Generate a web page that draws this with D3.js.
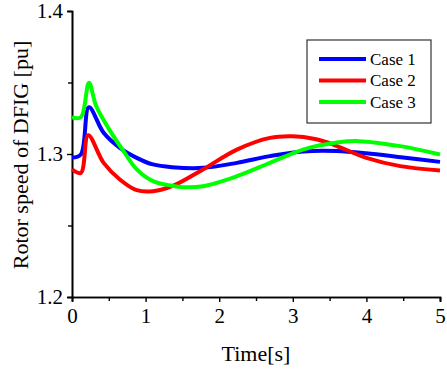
<!DOCTYPE html>
<html>
<head>
<meta charset="utf-8">
<script src="https://cdn.jsdelivr.net/npm/d3@7"></script>
<style>
  body { margin: 0; background: #fff; }
</style>
</head>
<body>
<div id="chart"></div>
<script>
      var fontFam = "'Liberation Serif', 'Times New Roman', Times, serif";

      // time points (s) and rotor speed values (pu)
      var case1T = [0, 0.12, 0.23, 0.43, 0.65, 0.88, 1.1, 1.36, 1.78, 2.24, 2.69, 3.14, 3.6, 4.0, 4.5, 5];
      var case1V = [1.2975, 1.2997, 1.3327, 1.3148, 1.3043, 1.2973, 1.2927, 1.2908, 1.2903, 1.2938, 1.2985, 1.3018, 1.3021, 1.3005, 1.2975, 1.2945];

      var case2T = [0, 0.12, 0.22, 0.43, 0.65, 0.88, 1.1, 1.36, 1.78, 2.24, 2.69, 3.0, 3.3, 3.55, 4.0, 4.46, 5];
      var case2V = [1.2892, 1.2868, 1.3131, 1.2938, 1.2822, 1.2747, 1.2740, 1.2775, 1.2892, 1.3031, 1.3113, 1.3124, 1.3105, 1.3066, 1.2973, 1.2915, 1.2885];

      var case3T = [0, 0.12, 0.23, 0.33, 0.52, 0.7, 0.88, 1.1, 1.36, 1.5, 1.78, 2.24, 2.69, 3.14, 3.6, 3.9, 4.46, 5];
      var case3V = [1.3257, 1.3257, 1.3498, 1.3334, 1.3160, 1.3020, 1.2892, 1.2810, 1.2778, 1.2768, 1.2775, 1.2845, 1.2938, 1.3031, 1.3080, 1.3090, 1.3055, 1.2997];

      var caseNames = ["Case 1", "Case 2", "Case 3"];
      var caseColors = ["#0000ff", "#ff0000", "#00ff00"];
      var xTicks = [0, 1, 2, 3, 4, 5];
      var xMinorTicks = [0.5, 1.5, 2.5, 3.5, 4.5];
      var yTicks = [1.2, 1.3, 1.4];
      var yMinorTicks = [1.25, 1.35];

      var margin = {top: 11, right: 7, bottom: 72, left: 72};
      var width = 447 - margin.left - margin.right,
          height = 369 - margin.top - margin.bottom;

      var svg = d3.select("#chart").append("svg")
          .attr("width", 447)
          .attr("height", 369);
      var canvas = svg.append("g")
          .attr("transform", "translate(" + margin.left + "," + margin.top + ")");

      ////// Define Scales /////////////////
      var xScale = d3.scaleLinear().domain([0, 5]).range([0, width]);
      var yScale = d3.scaleLinear().domain([1.2, 1.4]).range([height, 0]);

      /////// Define Axis //////////////////////////////
      var xAxis = d3.axisBottom(xScale).tickValues(xTicks).tickSize(5).tickPadding(6)
          .tickFormat(d3.format("d"));
      var xAxisMinor = d3.axisBottom(xScale).tickValues(xMinorTicks).tickSize(4).tickFormat("");
      var yAxis = d3.axisLeft(yScale).tickValues(yTicks).tickSize(5).tickPadding(4)
          .tickFormat(d3.format(".1f"));
      var yAxisMinor = d3.axisLeft(yScale).tickValues(yMinorTicks).tickSize(4).tickFormat("");

      function styleAxis(g) {
        g.attr("font-family", null).attr("font-size", null);
        g.select(".domain").attr("stroke", "#000").attr("stroke-width", 1.6);
        g.selectAll(".tick line").attr("stroke", "#000").attr("stroke-width", 1.4);
        g.selectAll(".tick text")
            .attr("font-family", fontFam)
            .attr("font-size", 21)
            .attr("fill", "#000");
      }

      canvas.append("g").attr("transform", "translate(0," + height + ")").call(xAxisMinor).call(styleAxis);
      canvas.append("g").attr("transform", "translate(0," + height + ")").call(xAxis).call(styleAxis);
      canvas.append("g").call(yAxisMinor).call(styleAxis);
      canvas.append("g").call(yAxis).call(styleAxis);

      // lines
      var series = [
        {t: case1T, v: case1V},
        {t: case2T, v: case2V},
        {t: case3T, v: case3V}
      ];
      var line = d3.line()
          .x(function(d) { return xScale(d[0]); })
          .y(function(d) { return yScale(d[1]); })
          .curve(d3.curveCatmullRom.alpha(0.5));

      series.forEach(function(s, i) {
        var pts = s.t.map(function(t, j) { return [t, s.v[j]]; });
        canvas.append("path")
            .datum(pts)
            .attr("fill", "none")
            .attr("stroke", caseColors[i])
            .attr("stroke-width", 4)
            .attr("stroke-linejoin", "round")
            .attr("d", line);
      });

      // axis titles
      svg.append("text")
          .attr("x", 256)
          .attr("y", 361)
          .attr("text-anchor", "middle")
          .attr("font-family", fontFam)
          .attr("font-size", 22)
          .text("Time[s]");

      svg.append("text")
          .attr("transform", "translate(20,155) rotate(-90)")
          .attr("dy", "0.35em")
          .attr("text-anchor", "middle")
          .attr("font-family", fontFam)
          .attr("font-size", 22)
          .text("Rotor speed of DFIG [pu]");

      // legend
      var legend = svg.append("g").attr("transform", "translate(307,40)");
      legend.append("rect")
          .attr("width", 124)
          .attr("height", 83)
          .attr("fill", "#fff")
          .attr("stroke", "#333")
          .attr("stroke-width", 1.2);
      caseNames.forEach(function(name, i) {
        var y = 19 + i * 21.5;
        legend.append("line")
            .attr("x1", 12).attr("x2", 59)
            .attr("y1", y).attr("y2", y)
            .attr("stroke", caseColors[i])
            .attr("stroke-width", 4);
        legend.append("text")
            .attr("x", 63)
            .attr("y", y)
            .attr("dy", "0.35em")
            .attr("font-family", fontFam)
            .attr("font-size", 17)
            .text(name);
      });
</script>
</body>
</html>
